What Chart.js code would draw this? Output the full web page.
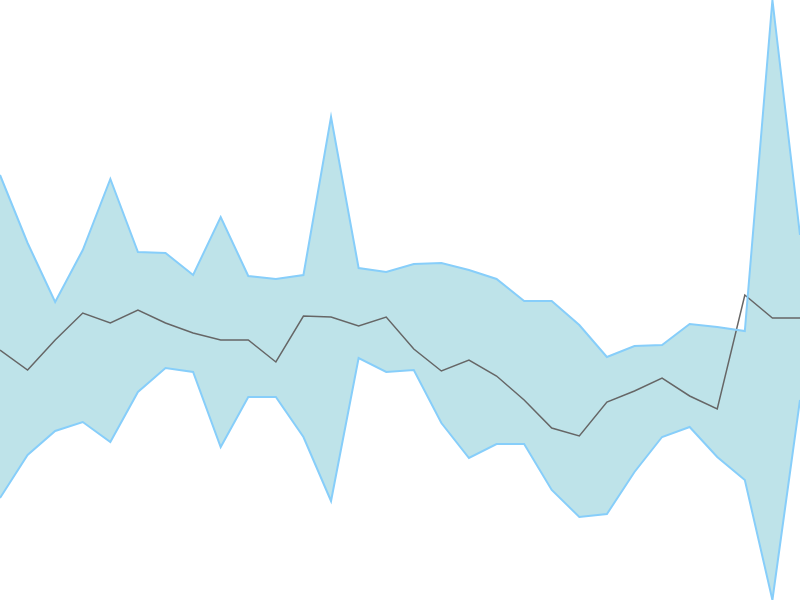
<!DOCTYPE html>
<html><head><meta charset="utf-8">
<script src="https://cdn.jsdelivr.net/npm/chart.js@4"></script>
<style>html,body{margin:0;padding:0;background:#fff;}#wrap{width:800px;height:600px;}</style>
</head><body><div id="wrap"><canvas id="c"></canvas></div>
<script>
const labels = Array.from({length:30},(_,i)=>String(i+1));
const upper = [425,357,298,350,421,348,347,325,383,324,321,325,483,332,328,336,337,330,321,299,299,275,243,254,255,276,273,269,600,365];
const middle = [250,230,260,287,277,290,277,267,260,260,238,284,283,274,283,251,229,240,224,200,172,164,198,209,222,204,191,305,282,282];
const lower = [102,145,169,178,158,208,232,228,153,203,203,163,99,242,228,230,177,142,156,156,110,83,86,128,163,173,143,120,0,200];
new Chart(document.getElementById('c'),{
  type:'line',
  data:{labels,datasets:[
    {data:upper,borderColor:'#87cefa',borderWidth:2,pointRadius:0,fill:'+2',backgroundColor:'rgb(190,227,233)',tension:0},
    {data:middle,borderColor:'#666666',borderWidth:1.5,pointRadius:0,fill:false,tension:0},
    {data:lower,borderColor:'#87cefa',borderWidth:2,pointRadius:0,fill:false,tension:0}
  ]},
  options:{responsive:true,maintainAspectRatio:false,animation:false,
    layout:{padding:0},
    plugins:{legend:{display:false},tooltip:{enabled:false},filler:{drawTime:'beforeDatasetsDraw'}},
    scales:{x:{display:false,offset:false},y:{display:false,min:0,max:600}}}
});
</script></body></html>
